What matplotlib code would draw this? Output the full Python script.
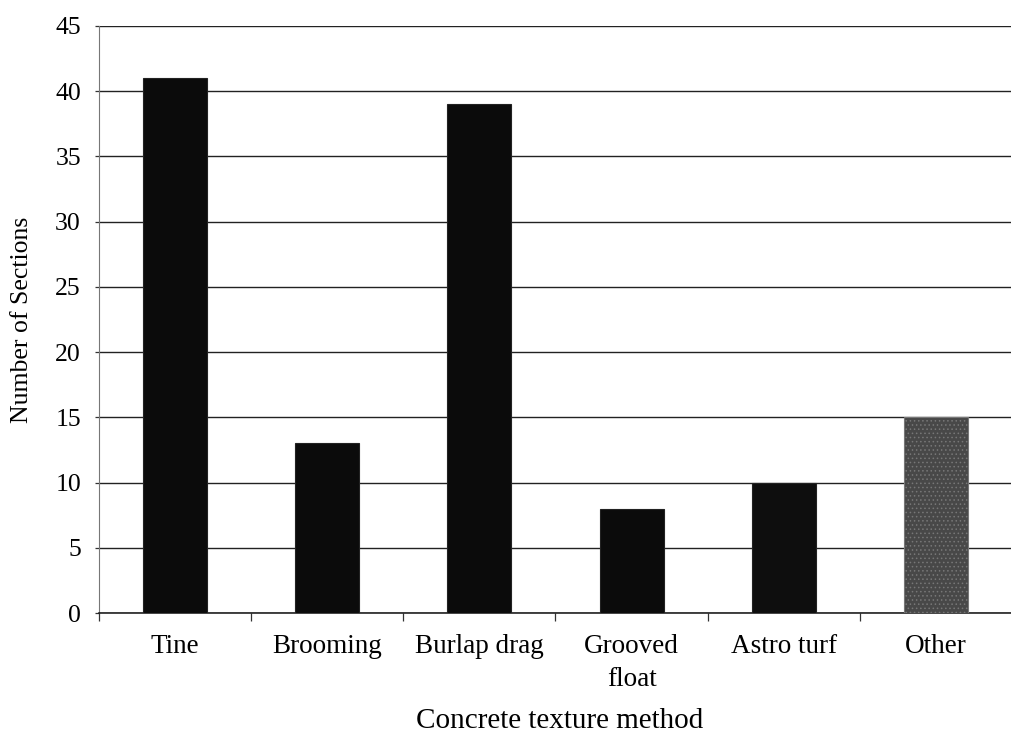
import numpy as np
import matplotlib
matplotlib.use("Agg")
import matplotlib.pyplot as plt

methods = ["Tine", "Brooming", "Burlap drag", "Grooved\nfloat", "Astro turf", "Other"]
sections = [41, 13, 39, 8, 10, 15]
bar_colors = ["#0b0b0b", "#0b0b0b", "#0b0b0b", "#0b0b0b", "#0e0e0e", "#484848"]

plt.rcParams["font.family"] = ["Liberation Serif", "DejaVu Serif"]
plt.rcParams["hatch.linewidth"] = 0.6

fig = plt.figure(figsize=(10.12, 7.33), dpi=100)
ax = fig.add_axes([99 / 1012, 1 - 613 / 733, 1 - 99 / 1012, (613 - 26) / 733])

x = np.arange(len(methods))
bars = ax.bar(x, sections, width=0.42, color=bar_colors, edgecolor="#222222",
              linewidth=0.8, zorder=3)
bars[-1].set_hatch("....")
bars[-1].set_edgecolor("#777777")

ax.set_ylim(0, 45)
ax.set_xlim(-0.5, 5.45)
ax.set_yticks(np.arange(0, 46, 5))
ax.yaxis.grid(True, color="#222222", linewidth=1.0, zorder=0)

# category separators as ticks below the axis
ax.set_xticks(np.arange(-0.5, 6, 1.0))
ax.set_xticklabels([])
ax.set_xticks(x, minor=True)
ax.set_xticklabels(methods, minor=True, fontsize=19.5, linespacing=1.45)
ax.tick_params(axis="x", which="major", direction="out", length=6, width=0.9, color="#333333")
ax.tick_params(axis="x", which="minor", length=0, pad=15)
ax.tick_params(axis="y", direction="out", length=3, width=0.9, labelsize=18.5, pad=10,
               color="#333333")

for s in ["top", "right"]:
    ax.spines[s].set_visible(False)
ax.spines["left"].set_color("#777777")
ax.spines["bottom"].set_color("#111111")
ax.spines["bottom"].set_linewidth(1.1)

ax.set_ylabel("Number of Sections", fontsize=18.5)
ax.yaxis.set_label_coords(-66 / 913, 0.5)
ax.set_xlabel("Concrete texture method", fontsize=21)
ax.xaxis.set_label_coords((560 - 99) / 913, -95 / 587)

fig.savefig("out.png", dpi=100)
